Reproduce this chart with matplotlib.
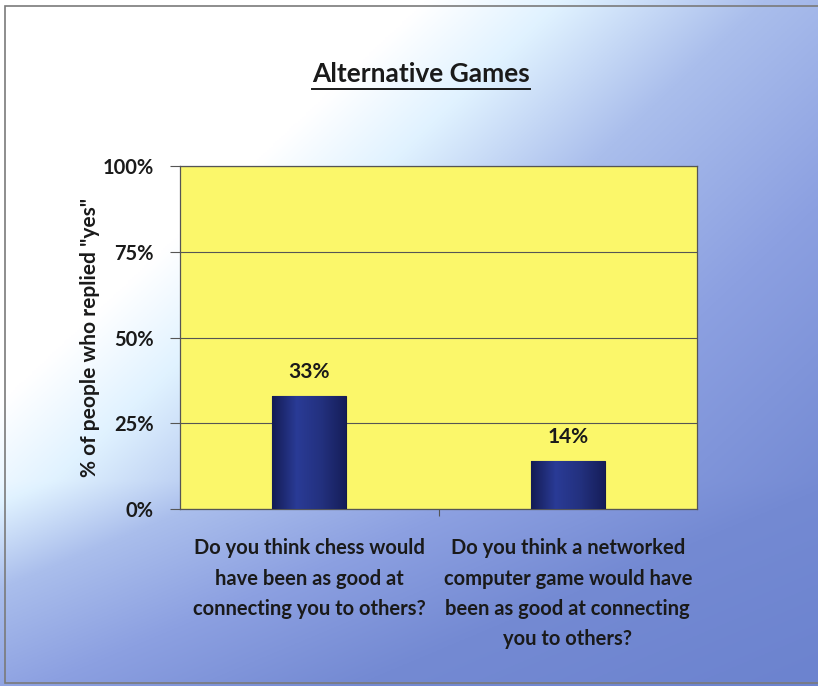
import numpy as np
import matplotlib
matplotlib.use("Agg")
import matplotlib.pyplot as plt
from matplotlib import font_manager
from matplotlib.colors import LinearSegmentedColormap
from matplotlib.patches import Rectangle
from matplotlib.lines import Line2D

# Data
categories = [
    "Do you think chess would\nhave been as good at\nconnecting you to others?",
    "Do you think a networked\ncomputer game would have\nbeen as good at connecting\nyou to others?",
]
values = [33, 14]
value_labels = ["33%", "14%"]
y_ticks = [0, 25, 50, 75, 100]
y_tick_labels = ["0%", "25%", "50%", "75%", "100%"]
title = "Alternative Games"
y_label = '% of people who replied "yes"'

available = {f.name for f in font_manager.fontManager.ttflist}
family = next((f for f in ["Lato", "Roboto"] if f in available), "DejaVu Sans")
plt.rcParams["font.family"] = [family, "DejaVu Sans"]
text_color = "#1a1a1a"

W, H = 818, 686
fig = plt.figure(figsize=(W / 100, H / 100), dpi=100)

# Page background: diagonal gradient, white at upper-left to blue at lower-right
bg = fig.add_axes([0, 0, 1, 1], zorder=0)
xx, yy = np.meshgrid(np.linspace(0, 1, 400), np.linspace(0, 1, 400))
t = xx / 0.55 + yy / 0.62 + 2.0 * np.clip(yy - 0.7, 0, None)
stops = [0.0, 0.95, 1.25, 1.7, 2.3, 3.0, 4.0]
cols = np.array([[255, 255, 255], [255, 255, 255], [224, 242, 255],
                 [170, 190, 236], [140, 160, 225], [116, 138, 211],
                 [108, 131, 207]]) / 255.0
rgb = np.stack([np.interp(t, stops, cols[:, k]) for k in range(3)], axis=-1)
bg.imshow(rgb, extent=[0, 1, 0, 1], origin="upper", aspect="auto")
bg.set_xlim(0, 1)
bg.set_ylim(0, 1)
bg.axis("off")
bg.add_patch(Rectangle((5 / W, 1 - 683 / H), (W - 4) / W, 677 / H,
                       fill=False, edgecolor="#7a7a7a", lw=1.2))

# Plot area
ax = fig.add_axes([180 / W, 1 - 509 / H, 517 / W, 343 / H], zorder=1)
ax.set_facecolor("#fbf76a")
x = np.arange(len(categories))
bars = ax.bar(x, values, width=0.285, color="#23307a", edgecolor="#141a4a",
              linewidth=0.8, zorder=3)

# Shaded fill on each bar
bar_cmap = LinearSegmentedColormap.from_list(
    "bar", ["#141c55", "#2a3b96", "#23317f", "#161e5a"])
grad = np.linspace(0, 1, 100).reshape(1, -1)
for b in bars:
    x0, y0 = b.get_x(), b.get_y()
    im = ax.imshow(grad, cmap=bar_cmap, aspect="auto", zorder=3.5,
                   extent=[x0, x0 + b.get_width(), y0, y0 + b.get_height()])
    im.set_clip_path(b)

for xi, v, lab in zip(x, values, value_labels):
    ax.text(xi, v + 5.3, lab, ha="center", va="baseline", fontsize=15,
            fontweight="bold", color=text_color, zorder=4)

ax.set_xlim(-0.5, len(categories) - 0.5)
ax.set_ylim(0, 100)
ax.set_yticks(y_ticks)
ax.set_yticklabels(y_tick_labels, fontsize=14.5, fontweight="bold", color=text_color)
ax.yaxis.grid(True, color="#555555", linewidth=0.8, zorder=1)
ax.set_axisbelow(True)
ax.tick_params(axis="y", length=7, width=0.8, color="#555555", pad=12)

ax.set_xticks([0.5])
ax.set_xticklabels([""])
ax.tick_params(axis="x", length=5, width=0.8, color="#555555", direction="out")
for xi, cat in zip(x, categories):
    ax.text(xi, -8.6, cat, ha="center", va="top", fontsize=14.5, fontweight="bold",
            color=text_color, linespacing=1.64, transform=ax.transData,
            clip_on=False)

for s in ax.spines.values():
    s.set_color("#555555")
    s.set_linewidth(0.9)

ax.set_ylabel(y_label, fontsize=15, fontweight="bold", color=text_color,
              labelpad=2)

# Underlined title
ttl = fig.text(421 / W, 1 - 82 / H, title, ha="center", va="baseline",
               fontsize=19, fontweight="bold", color=text_color)
fig.canvas.draw()
bb = ttl.get_window_extent(renderer=fig.canvas.get_renderer())
uy = 1 - 89 / H
fig.add_artist(Line2D([bb.x0 / W, bb.x1 / W], [uy, uy], color=text_color,
                      lw=1.4, transform=fig.transFigure))

fig.savefig("out.png", dpi=100)
